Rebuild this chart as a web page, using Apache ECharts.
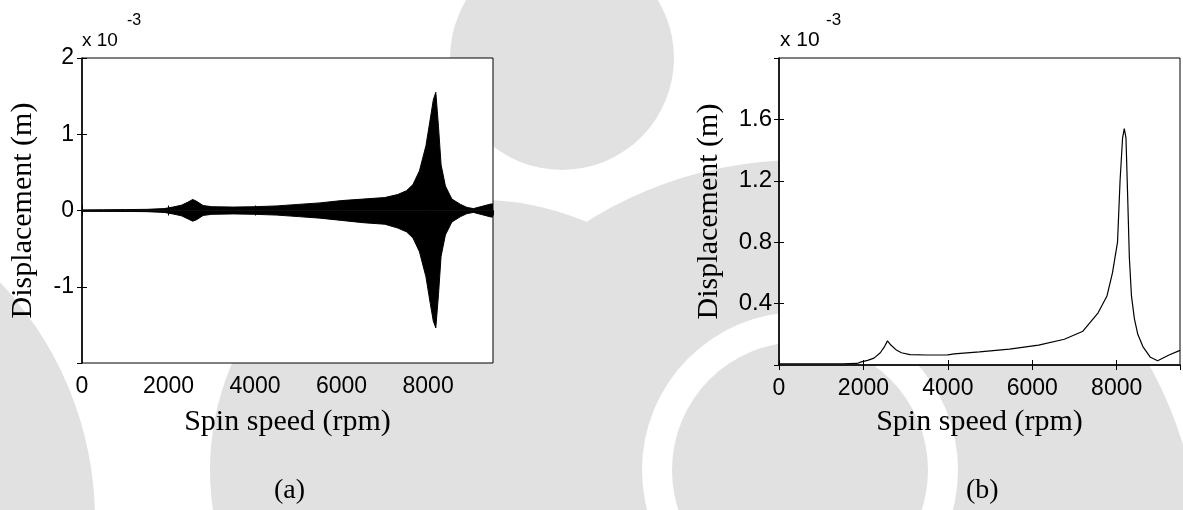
<!DOCTYPE html>
<html>
<head>
<meta charset="utf-8">
<script src="https://cdn.jsdelivr.net/npm/echarts@6/dist/echarts.min.js"></script>
<style>
html,body{margin:0;padding:0;background:#fff;}
#chart{width:1183px;height:510px;}
</style>
</head>
<body>
<div id="chart"></div>
<script>
// ---- data (displacement in units of 1e-3 m) ----
// (a) envelope of the time response
var rpmA   = [0, 500, 1000, 1500, 1900, 2100, 2300, 2450, 2560, 2650, 2800, 3000, 3500, 4000, 4500, 5000, 5500, 6000, 6500, 7000, 7300, 7500, 7650, 7800, 7950, 8050, 8120, 8178, 8240, 8300, 8400, 8550, 8750, 8900, 9050, 9250, 9450, 9500];
var upperA = [0.008, 0.01, 0.012, 0.015, 0.025, 0.045, 0.07, 0.11, 0.145, 0.12, 0.065, 0.05, 0.045, 0.05, 0.06, 0.08, 0.1, 0.13, 0.15, 0.17, 0.21, 0.26, 0.34, 0.52, 0.85, 1.2, 1.45, 1.55, 1.1, 0.6, 0.32, 0.15, 0.08, 0.04, 0.025, 0.055, 0.085, 0.085];
var lowerA = [-0.008, -0.01, -0.012, -0.015, -0.025, -0.045, -0.07, -0.11, -0.14, -0.12, -0.065, -0.05, -0.045, -0.05, -0.06, -0.08, -0.1, -0.13, -0.16, -0.18, -0.23, -0.28, -0.36, -0.54, -0.87, -1.22, -1.45, -1.54, -1.1, -0.6, -0.32, -0.15, -0.08, -0.04, -0.025, -0.055, -0.085, -0.085];
// (b) amplitude response
var rpmB  = [0, 500, 1000, 1500, 1850, 1950, 2100, 2250, 2400, 2500, 2570, 2650, 2770, 2900, 3100, 3500, 4000, 4150, 4750, 5460, 6150, 6760, 7200, 7560, 7770, 7900, 8020, 8080, 8140, 8180, 8220, 8260, 8300, 8350, 8420, 8500, 8620, 8800, 8970, 9240, 9500];
var dispB = [0.008, 0.008, 0.008, 0.008, 0.01, 0.02, 0.03, 0.045, 0.08, 0.12, 0.157, 0.13, 0.1, 0.08, 0.068, 0.065, 0.066, 0.072, 0.086, 0.103, 0.129, 0.168, 0.22, 0.34, 0.45, 0.6, 0.8, 1.2, 1.48, 1.54, 1.48, 1.1, 0.7, 0.45, 0.3, 0.2, 0.12, 0.05, 0.028, 0.065, 0.095];
// tick labels
var xTicks  = [0, 2000, 4000, 6000, 8000];
var yTicksA = [-1, 0, 1, 2];
var yTicksB = [0.4, 0.8, 1.2, 1.6];

function pairs(xs, ys){ return xs.map(function(x,i){ return [x, ys[i]]; }); }
function inList(list, v){ return list.some(function(t){ return Math.abs(t - v) < 1e-9; }); }

var SANS = "'Liberation Sans', Arial, Helvetica, sans-serif";
var SERIF = "'Liberation Serif', 'Times New Roman', serif";
var GREY = '#e1e1e1';

function xAxisMain(gi, gap){
  return {
    gridIndex: gi, type: 'value', min: 0, max: 9500, interval: 2000, position: 'bottom',
    axisLine: {show: true, lineStyle: {color: '#000', width: 1.5}},
    axisTick: {show: true, inside: true, length: 5, lineStyle: {color: '#000'}},
    splitLine: {show: false},
    axisLabel: {color: '#000', fontFamily: SANS, fontSize: 23, margin: 12,
      showMaxLabel: false,
      formatter: function(v){ return inList(xTicks, v) ? String(v) : ''; }},
    name: 'Spin speed (rpm)', nameLocation: 'middle', nameGap: gap,
    nameTextStyle: {color: '#000', fontFamily: SERIF, fontSize: 30}
  };
}
function xAxisTop(gi){
  return {
    gridIndex: gi, type: 'value', min: 0, max: 9500, interval: 2000, position: 'top',
    axisLine: {show: false}, axisLabel: {show: false}, splitLine: {show: false},
    axisTick: {show: true, inside: true, length: 5, lineStyle: {color: '#000'}}
  };
}

var option = {
  backgroundColor: '#fff',
  animation: false,
  graphic: [
    // watermark in the background
    {type: 'circle', z: -10, shape: {cx: -250, cy: 520, r: 345}, style: {fill: GREY}},
    {type: 'circle', z: -10, shape: {cx: 800, cy: 560, r: 400}, style: {fill: GREY}},
    {type: 'circle', z: -10, shape: {cx: 480, cy: 470, r: 270}, style: {fill: GREY}},
    {type: 'circle', z: -9, shape: {cx: 562, cy: 58, r: 142}, style: {fill: '#fff'}},
    {type: 'circle', z: -8, shape: {cx: 562, cy: 58, r: 112}, style: {fill: GREY}},
    {type: 'circle', z: -9, shape: {cx: 800, cy: 470, r: 158}, style: {fill: '#fff'}},
    {type: 'circle', z: -8, shape: {cx: 800, cy: 470, r: 128}, style: {fill: GREY}},
    // exponent labels
    {type: 'text', z: 100, left: 82, top: 31, style: {text: 'x 10', fill: '#000', font: '19px ' + SANS}},
    {type: 'text', z: 100, left: 127, top: 13, style: {text: '-3', fill: '#000', font: '16px ' + SANS}},
    {type: 'text', z: 100, left: 780, top: 30, style: {text: 'x 10', fill: '#000', font: '21px ' + SANS}},
    {type: 'text', z: 100, left: 826, top: 12, style: {text: '-3', fill: '#000', font: '17px ' + SANS}},
    // panel captions
    {type: 'text', z: 100, left: 274, top: 477, style: {text: '(a)', fill: '#000', font: '28px ' + SERIF}},
    {type: 'text', z: 100, left: 966, top: 477, style: {text: '(b)', fill: '#000', font: '28px ' + SERIF}}
  ],
  grid: [
    {left: 82, top: 58, width: 411, height: 305, show: true, backgroundColor: '#fff', borderColor: '#000', borderWidth: 1, containLabel: false},
    {left: 779, top: 58, width: 401, height: 307, show: true, backgroundColor: '#fff', borderColor: '#000', borderWidth: 1, containLabel: false}
  ],
  xAxis: [xAxisMain(0, 44), xAxisTop(0), xAxisMain(1, 42), xAxisTop(1)],
  yAxis: [
    {gridIndex: 0, type: 'value', min: -2, max: 2, interval: 1, position: 'left',
     axisLine: {show: true, lineStyle: {color: '#000', width: 1.5}},
     axisTick: {show: true, inside: true, length: 5, lineStyle: {color: '#000'}},
     splitLine: {show: false},
     axisLabel: {color: '#000', fontFamily: SANS, fontSize: 23, margin: 8, showMinLabel: false,
       formatter: function(v){ return inList(yTicksA, v) ? String(v) : ''; }},
     name: 'Displacement (m)', nameLocation: 'middle', nameRotate: 90, nameGap: 44,
     nameTextStyle: {color: '#000', fontFamily: SERIF, fontSize: 30}},
    {gridIndex: 0, type: 'value', min: -2, max: 2, interval: 1, position: 'right',
     axisLine: {show: false}, axisLabel: {show: false}, splitLine: {show: false},
     axisTick: {show: true, inside: true, length: 5, lineStyle: {color: '#000'}}},
    {gridIndex: 1, type: 'value', min: 0, max: 2, interval: 0.4, position: 'left',
     axisLine: {show: true, lineStyle: {color: '#000', width: 1.5}},
     axisTick: {show: true, inside: true, length: 5, lineStyle: {color: '#000'}},
     splitLine: {show: false},
     axisLabel: {color: '#000', fontFamily: SANS, fontSize: 24, margin: 7, showMinLabel: false, showMaxLabel: false,
       formatter: function(v){ return inList(yTicksB, v) ? v.toFixed(1) : ''; }},
     name: 'Displacement (m)', nameLocation: 'middle', nameRotate: 90, nameGap: 55,
     nameTextStyle: {color: '#000', fontFamily: SERIF, fontSize: 30}},
    {gridIndex: 1, type: 'value', min: 0, max: 2, interval: 0.4, position: 'right',
     axisLine: {show: false}, axisLabel: {show: false}, splitLine: {show: false},
     axisTick: {show: true, inside: true, length: 5, lineStyle: {color: '#000'}}}
  ],
  series: [
    {type: 'line', xAxisIndex: 0, yAxisIndex: 0, data: pairs(rpmA, upperA), symbol: 'none',
     lineStyle: {color: '#000', width: 1}, areaStyle: {color: '#000', opacity: 1}, z: 3},
    {type: 'line', xAxisIndex: 0, yAxisIndex: 0, data: pairs(rpmA, lowerA), symbol: 'none',
     lineStyle: {color: '#000', width: 1}, areaStyle: {color: '#000', opacity: 1}, z: 3},
    {type: 'line', xAxisIndex: 2, yAxisIndex: 2, data: pairs(rpmB, dispB), symbol: 'none',
     lineStyle: {color: '#000', width: 1.2}, z: 3}
  ]
};

var chart = echarts.init(document.getElementById('chart'), null, {renderer: 'canvas'});
chart.setOption(option);
</script>
</body>
</html>
